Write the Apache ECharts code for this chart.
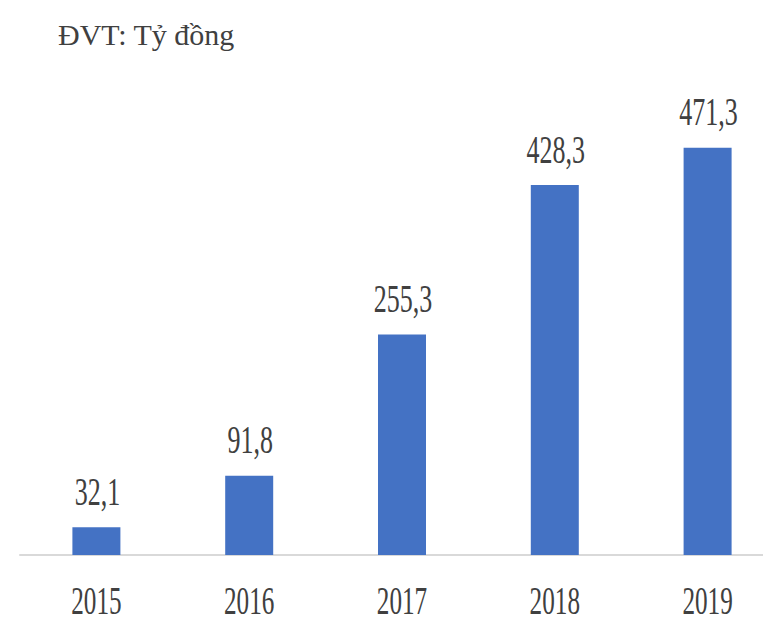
<!DOCTYPE html>
<html>
<head>
<meta charset="utf-8">
<script src="https://cdn.jsdelivr.net/npm/echarts@6/dist/echarts.min.js"></script>
<style>
html,body{margin:0;padding:0;background:#fff;overflow:hidden;}
#chart{width:763px;height:618px;}
</style>
</head>
<body>
<div id="chart"></div>
<script>
const titleText = 'ĐVT: Tỷ đồng';
const categories = ['2015', '2016', '2017', '2018', '2019'];
const values = [32.1, 91.8, 255.3, 428.3, 471.3];
const valueLabels = ['32,1', '91,8', '255,3', '428,3', '471,3'];

const textColor = '#404040';
const serif = '"Liberation Serif", "Times New Roman", serif';

const chart = echarts.init(document.getElementById('chart'), null, {renderer: 'svg'});
chart.setOption({
  animation: false,
  backgroundColor: '#ffffff',
  title: {
    text: titleText,
    left: 53,
    top: 14,
    textStyle: {fontFamily: serif, fontSize: 30, fontWeight: 'normal', color: textColor}
  },
  grid: {left: 20, right: -21, top: 123, bottom: 63, containLabel: false, outerBoundsMode: 'none'},
  xAxis: {
    type: 'category',
    data: categories,
    axisLine: {show: true, lineStyle: {color: '#d9d9d9', width: 2}},
    axisTick: {show: false},
    axisLabel: {show: false}
  },
  yAxis: {type: 'value', min: 0, max: 500, show: false, splitLine: {show: false}},
  series: [
    {
      type: 'bar',
      data: values,
      barWidth: 48,
      itemStyle: {color: '#4472c4'}
    },
    {
      type: 'custom',
      data: values.map((v, i) => [i, v]),
      z: 10,
      renderItem: function (params, api) {
        const i = params.dataIndex;
        const top = api.coord([api.value(0), api.value(1)]);
        const base = api.coord([api.value(0), 0]);
        return {
          type: 'group',
          children: [
            {
              type: 'text',
              x: top[0] + 1,
              y: top[1] - 36,
              scaleX: 0.65,
              style: {
                text: valueLabels[i],
                fill: textColor,
                font: '40px ' + serif,
                textAlign: 'center', align: 'center',
                textVerticalAlign: 'middle', verticalAlign: 'middle'
              }
            },
            {
              type: 'text',
              x: base[0],
              y: base[1] + 45,
              scaleX: 0.63,
              style: {
                text: categories[i],
                fill: textColor,
                font: '40px ' + serif,
                textAlign: 'center', align: 'center',
                textVerticalAlign: 'middle', verticalAlign: 'middle'
              }
            }
          ]
        };
      }
    }
  ]
});
</script>
</body>
</html>
